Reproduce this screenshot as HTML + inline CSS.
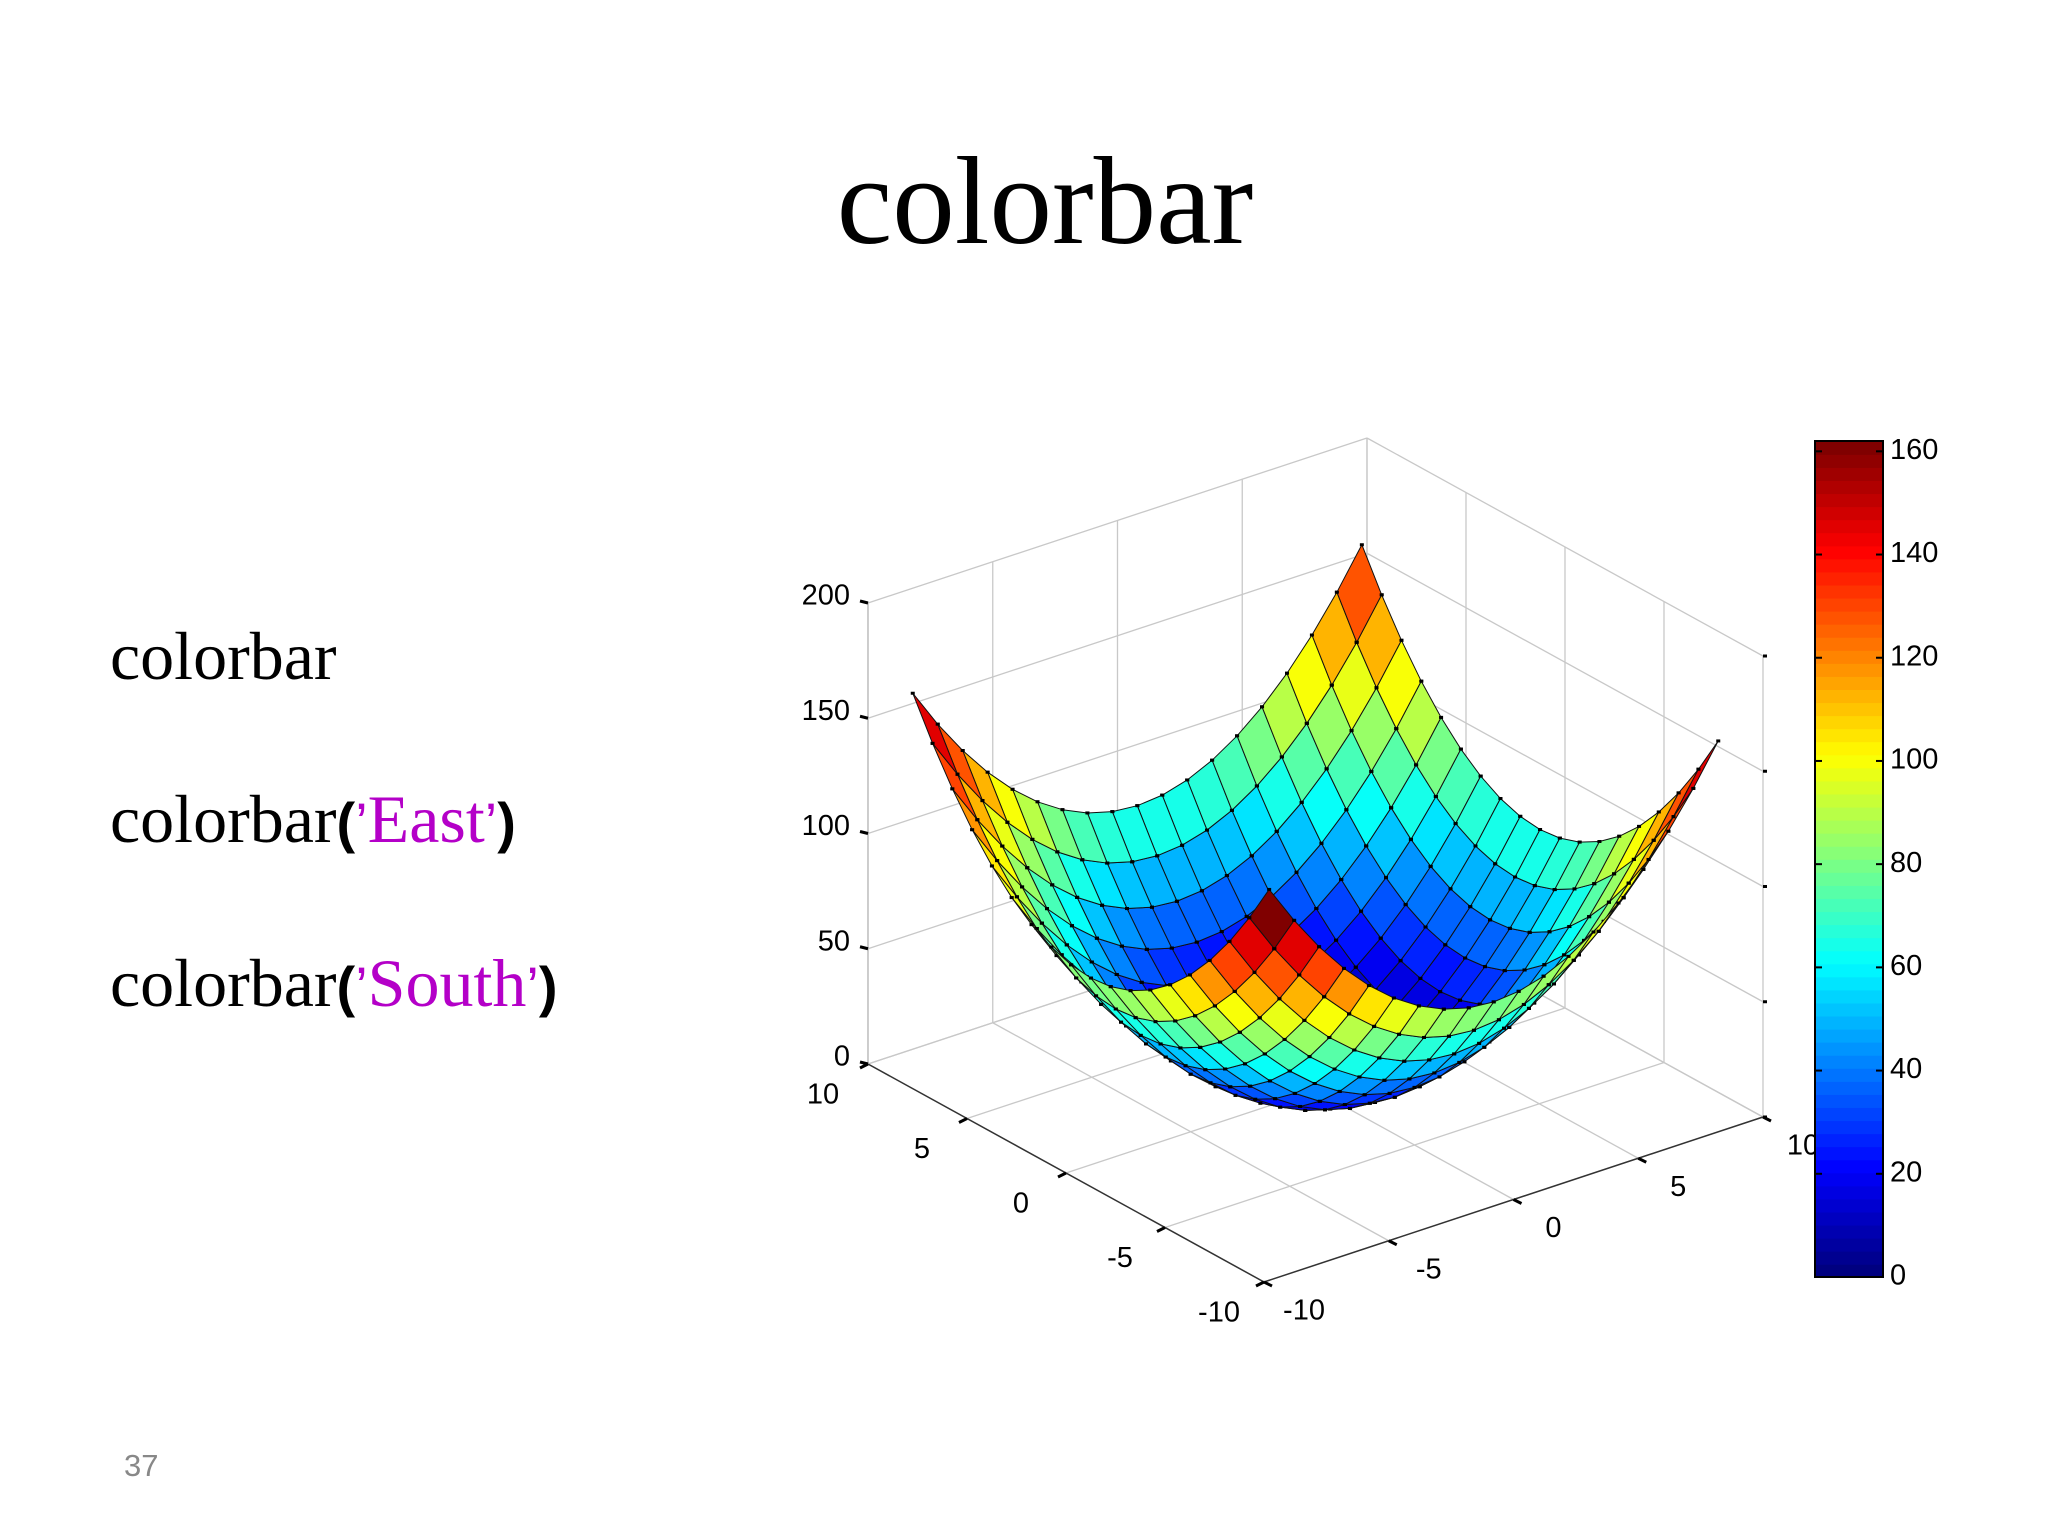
<!DOCTYPE html>
<html><head><meta charset="utf-8"><style>
html,body{margin:0;padding:0;background:#fff;}
body{width:2048px;height:1536px;position:relative;overflow:hidden;font-family:"Liberation Serif",serif;}
.t{position:absolute;white-space:nowrap;color:#000;}
.p{font-family:"Liberation Sans",sans-serif;font-weight:bold;font-size:56px;}
.q{color:#b400c8;}
.a{font-family:"Liberation Sans",sans-serif;font-size:56px;}
</style></head><body>
<div class="t" style="left:0;width:2090px;text-align:center;top:140px;font-size:125px;line-height:1;">colorbar</div>
<div class="t" style="left:110px;top:622px;font-size:68px;line-height:1;">colorbar</div>
<div class="t" style="left:110px;top:785px;font-size:68px;line-height:1;">colorbar<span class="p">(</span><span class="q"><span class="a">’</span>East<span class="a">’</span></span><span class="p">)</span></div>
<div class="t" style="left:110px;top:949px;font-size:68px;line-height:1;">colorbar<span class="p">(</span><span class="q"><span class="a">’</span>South<span class="a">’</span></span><span class="p">)</span></div>
<div class="t" style="left:124px;top:1448px;font-size:31px;color:#888;font-family:'Liberation Sans',sans-serif;">37</div>
<svg id="chart" width="2048" height="1536" style="position:absolute;left:0;top:0;" xmlns="http://www.w3.org/2000/svg" font-family="Liberation Sans, sans-serif"></svg>
<script>
const xs=[-9,-8,-7,-6,-5,-4,-3,-2,-1,0,1,2,3,4,5,6,7,8,9];
const ys=[-9,-8,-7,-6,-5,-4,-3,-2,-1,0,1,2,3,4,5,6,7,8,9];
const zHalf=[
[162,145,130,117,106,97,90,85,82,81,82,85,90,97,106,117,130,145,162],
[145,128,113,100,89,80,73,68,65,64,65,68,73,80,89,100,113,128,145],
[130,113,98,85,74,65,58,53,50,49,50,53,58,65,74,85,98,113,130],
[117,100,85,72,61,52,45,40,37,36,37,40,45,52,61,72,85,100,117],
[106,89,74,61,50,41,34,29,26,25,26,29,34,41,50,61,74,89,106],
[97,80,65,52,41,32,25,20,17,16,17,20,25,32,41,52,65,80,97],
[90,73,58,45,34,25,18,13,10,9,10,13,18,25,34,45,58,73,90],
[85,68,53,40,29,20,13,8,5,4,5,8,13,20,29,40,53,68,85],
[82,65,50,37,26,17,10,5,2,1,2,5,10,17,26,37,50,65,82],
[81,64,49,36,25,16,9,4,1,0,1,4,9,16,25,36,49,64,81]
];
const zValues=zHalf.concat(zHalf.slice(0,9).reverse());
const xTicks=[-10,-5,0,5,10];
const yTicks=[-10,-5,0,5,10];
const zTicks=[0,50,100,150,200];
const cbTicks=[0,20,40,60,80,100,120,140,160];
const cLim=[0,162];

const svg=document.getElementById('chart');
const NS='http://www.w3.org/2000/svg';
const F=[1264,1282],RX=[499,-165],RY=[-396,-218],ZS=461/200;
function P(x,y,z){const a=(x+10)/20,b=(y+10)/20;return [F[0]+a*RX[0]+b*RY[0],F[1]+a*RX[1]+b*RY[1]-z*ZS];}
function depth(x,y,z){const p=P(x,y,0);return 2*(F[1]-p[1])-1.331*z*ZS;}
function jet(t){t=Math.max(0,Math.min(1,t));t=Math.floor(t*63.999)/63;
 const c=v=>Math.round(255*Math.max(0,Math.min(1,v)));
 return `rgb(${c(1.5-Math.abs(4*t-3))},${c(1.5-Math.abs(4*t-2))},${c(1.5-Math.abs(4*t-1))})`;}
function el(tag,attrs,parent){const e=document.createElementNS(NS,tag);for(const k in attrs)e.setAttribute(k,attrs[k]);(parent||svg).appendChild(e);return e;}
function line(p,q,stroke,w,name){const e=el('line',{x1:p[0],y1:p[1],x2:q[0],y2:q[1],stroke:stroke,'stroke-width':w});

return e;}
function txt(x,y,s,anchor,name){const e=el('text',{x:x,y:y,'font-size':29,'text-anchor':anchor,'dominant-baseline':'middle',fill:'#000'});e.textContent=s;

return e;}
const G='#c8c8c8';
zTicks.forEach(z=>{line(P(-10,10,z),P(10,10,z),G,1.3,'grid-z-back-left');line(P(10,10,z),P(10,-10,z),G,1.3,'grid-z-back-right');});
xTicks.forEach(x=>{line(P(x,10,0),P(x,10,200),G,1.3,'grid-x-wall');line(P(x,-10,0),P(x,10,0),G,1.3,'grid-x-floor');});
yTicks.forEach(y=>{line(P(10,y,0),P(10,y,200),G,1.3,'grid-y-wall');line(P(-10,y,0),P(10,y,0),G,1.3,'grid-y-floor');});
line(P(-10,-10,0),P(-10,10,0),'#333',1.5,'y-axis-line');
line(P(-10,-10,0),P(10,-10,0),'#333',1.5,'x-axis-line');
line(P(-10,10,0),P(-10,10,200),'#bbb',1.3,'z-axis-line');
yTicks.forEach(y=>{const p=P(-10,y,0);line(p,[p[0]-8,p[1]+4],'#000',3,'y-tick');txt(p[0]-45,p[1]+32,String(y),'middle','y-tick-label');});
xTicks.forEach(x=>{const p=P(x,-10,0);line(p,[p[0]+8,p[1]+4],'#000',3,'x-tick');txt(p[0]+40,p[1]+30,String(x),'middle','x-tick-label');});
zTicks.forEach(z=>{const p=P(-10,10,z);line(p,[p[0]-8,p[1]-2],'#000',3,'z-tick');txt(p[0]-18,p[1]-6,String(z),'end','z-tick-label');
 const q=P(10,-10,z);line(q,[q[0]+4,q[1]],'#000',3,'z-tick-right');});
const faces=[];
for(let j=0;j<ys.length-1;j++)for(let i=0;i<xs.length-1;i++){
 const v=[[xs[i],ys[j],zValues[j][i]],[xs[i+1],ys[j],zValues[j][i+1]],[xs[i+1],ys[j+1],zValues[j+1][i+1]],[xs[i],ys[j+1],zValues[j+1][i]]];
 const cx=(v[0][0]+v[2][0])/2,cy=(v[0][1]+v[2][1])/2,cz=(v[0][2]+v[1][2]+v[2][2]+v[3][2])/4;
 faces.push({v,d:depth(cx,cy,cz),c:v[0][2]});
}
faces.sort((a,b)=>b.d-a.d);
const gS=el('g',{});


faces.forEach(f=>{
 const pts=f.v.map(q=>P(q[0],q[1],q[2]));
 const poly=el('polygon',{points:pts.map(p=>p.join(',')).join(' '),fill:jet((f.c-cLim[0])/(cLim[1]-cLim[0])),stroke:'#111','stroke-width':1,'stroke-linejoin':'round'},gS);
 
 
 pts.forEach(p=>{const d=el('rect',{x:p[0]-2,y:p[1]-1.5,width:4,height:3,fill:'#000'},gS);
  
  });
});
const cbX=1815,cbW=68,cbTop=441,cbBot=1277;
const cbH=cbBot-cbTop;
const gC=el('g',{});


for(let k=0;k<64;k++){const y0=cbBot-(k+1)/64*cbH;
 const r=el('rect',{x:cbX,y:y0,width:cbW,height:cbH/64+0.8,fill:jet(k/63)},gC);
 
 }
const bd=el('rect',{x:cbX,y:cbTop,width:cbW,height:cbH,fill:'none',stroke:'#000','stroke-width':2},gC);


cbTicks.forEach(v=>{const y=cbBot-(v-cLim[0])/(cLim[1]-cLim[0])*cbH;
 line([cbX,y],[cbX+7,y],'#000',2,'colorbar-tick');line([cbX+cbW-7,y],[cbX+cbW,y],'#000',2,'colorbar-tick');
 txt(cbX+cbW+7,y,String(v),'start','colorbar-tick-label');});
</script>
</body></html>
